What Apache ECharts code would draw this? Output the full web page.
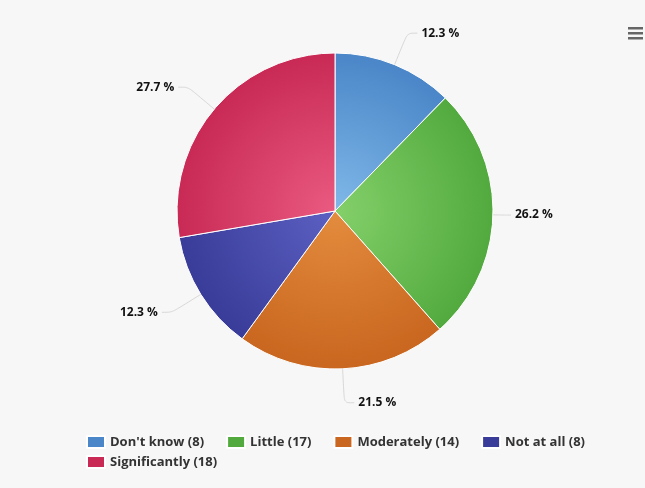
<!DOCTYPE html>
<html>
<head>
<meta charset="utf-8">
<script src="https://cdn.jsdelivr.net/npm/echarts@6/dist/echarts.min.js"></script>
<style>
html,body{margin:0;padding:0;background:#f7f7f7;}
#c{width:645px;height:488px;}
</style>
</head>
<body>
<div id="c"></div>
<script>
var categories = ["Don't know", "Little", "Moderately", "Not at all", "Significantly"];
var counts = [8, 17, 14, 8, 18];
var innerColors = ['#80b8e8', '#84d06a', '#e38c3e', '#5c60c2', '#ea5a80'];
var outerColors = ['#4a86c8', '#52aa3e', '#c9661f', '#393c98', '#c82a55'];

var cx = 335, cy = 211, R = 158;
var chart = echarts.init(document.getElementById('c'));

function legendName(i){ return categories[i] + ' (' + counts[i] + ')'; }

var data = categories.map(function(c, i){
  var item = {
    name: legendName(i),
    value: counts[i],
    itemStyle: {
      color: {
        type: 'radial', x: cx, y: cy, r: R, global: true,
        colorStops: [{offset: 0, color: innerColors[i]}, {offset: 1, color: outerColors[i]}]
      }
    }
  };
  // the horizontal (right-side) label sits closer to the pie
  if (i === 1) item.labelLine = {length: 10, length2: 8};
  return item;
});

var legendCommon = {
  left: 86,
  padding: 0,
  orient: 'horizontal',
  icon: 'rect',
  itemWidth: 18,
  itemHeight: 12,
  itemGap: 22,
  textStyle: {fontFamily: 'Open Sans', fontWeight: 'bold', fontSize: 13, color: '#333'},
  selectedMode: false
};

chart.setOption({
  backgroundColor: '#f7f7f7',
  animation: false,
  legend: [
    Object.assign({}, legendCommon, {top: 435, data: [0,1,2,3].map(legendName)}),
    Object.assign({}, legendCommon, {top: 455, data: [legendName(4)]})
  ],
  graphic: [
    {type: 'rect', shape: {x: 628, y: 27, width: 15, height: 2.5}, style: {fill: '#666'}},
    {type: 'rect', shape: {x: 628, y: 32, width: 15, height: 2.5}, style: {fill: '#666'}},
    {type: 'rect', shape: {x: 628, y: 37, width: 15, height: 2.5}, style: {fill: '#666'}}
  ],
  series: [{
    type: 'pie',
    center: [cx, cy],
    radius: R,
    startAngle: 90,
    clockwise: true,
    percentPrecision: 1,
    avoidLabelOverlap: false,
    emphasis: {scale: false},
    itemStyle: {borderColor: '#ffffff', borderWidth: 1},
    label: {
      formatter: '{d} %',
      fontFamily: 'Open Sans',
      fontWeight: 'bold',
      fontSize: 12,
      color: '#111',
      distanceToLabelLine: 4
    },
    labelLine: {
      show: true,
      length: 34,
      length2: 10,
      smooth: 0.3,
      lineStyle: {color: '#d8d8d8', width: 1}
    },
    data: data
  }]
});
</script>
</body>
</html>
